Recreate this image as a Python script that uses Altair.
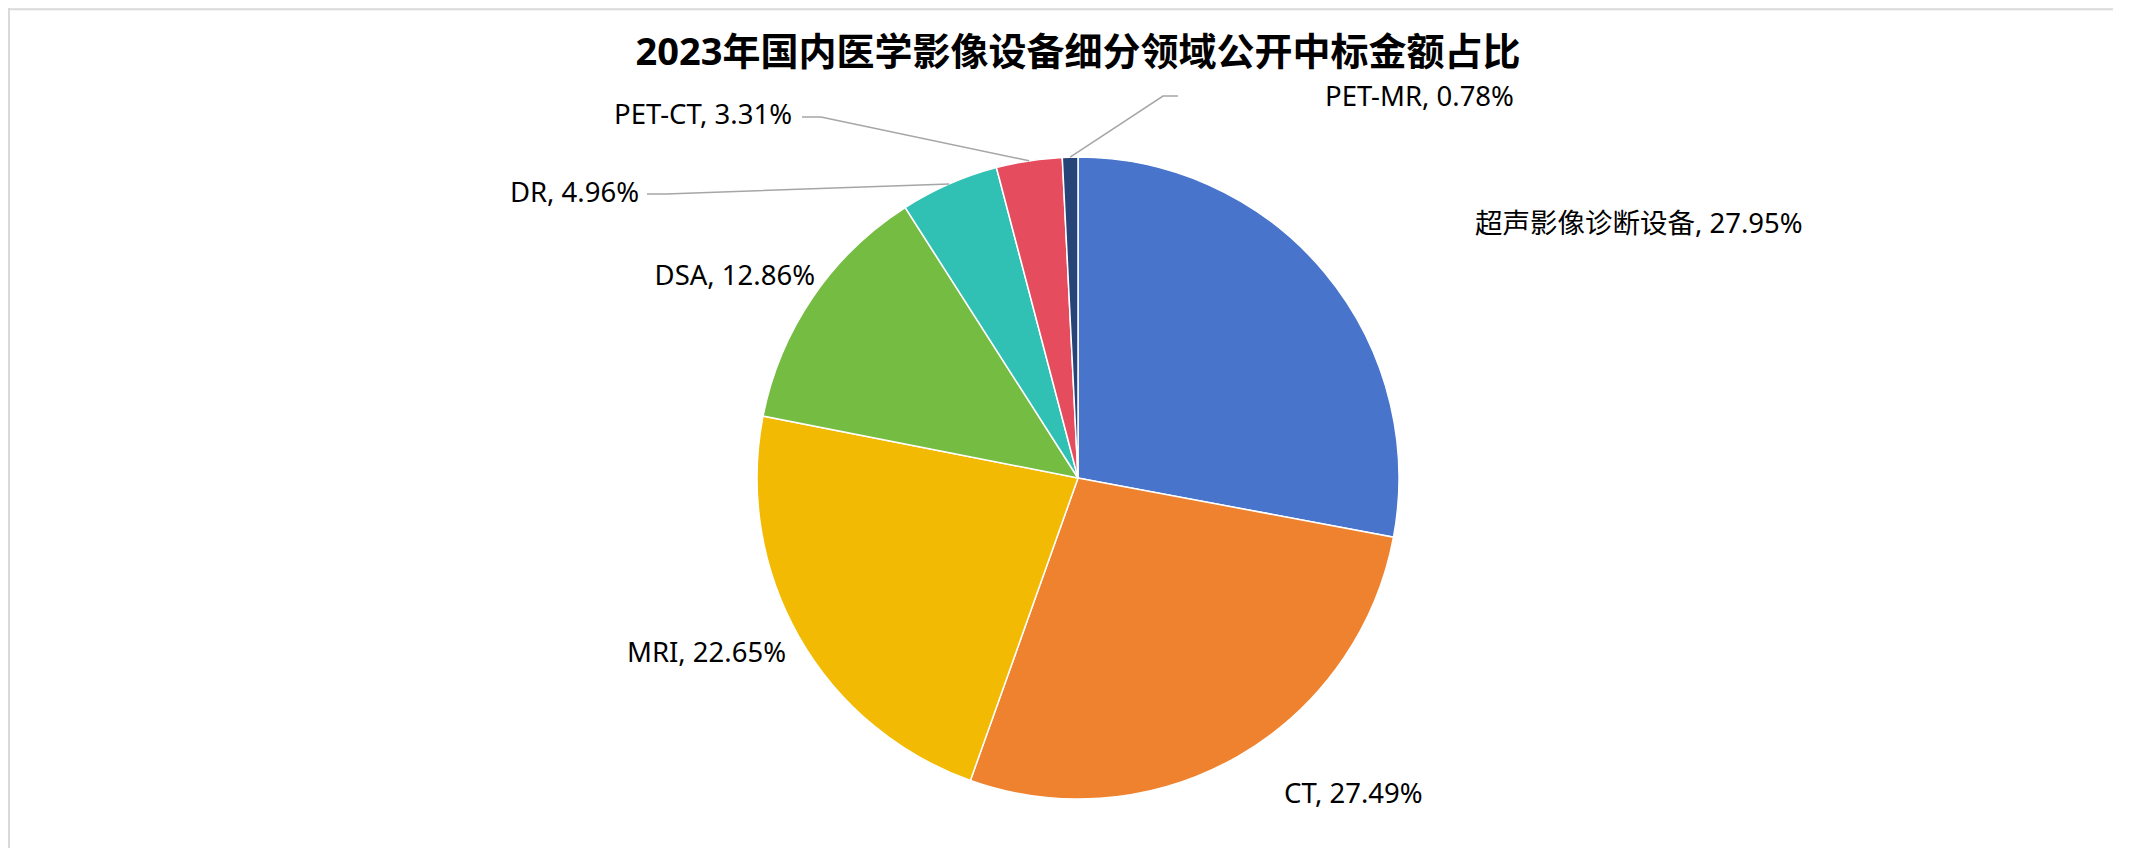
import math
import altair as alt
import pandas as pd

# ---------------- data ----------------
categories = ["超声影像诊断设备", "CT", "MRI", "DSA", "DR", "PET-CT", "PET-MR"]
shares = [27.95, 27.49, 22.65, 12.86, 4.96, 3.31, 0.78]
colors = ["#4874CB", "#EE822F", "#F2BA02", "#75BD42", "#30C0B4", "#E54C5E", "#264478"]
title_text = "2023年国内医学影像设备细分领域公开中标金额占比"

# ---------------- layout ----------------
W, H = 2105, 840
CX, CY = 1070, 470          # pie centre (chart px)
R = 321                     # pie radius
FONT = "Noto Sans, Noto Sans CJK SC, sans-serif"

# label anchor offsets relative to pie centre: (dx, dy, align)
label_layout = {
    "超声影像诊断设备": (397, -253, "left"),
    "CT": (206, 317, "left"),
    "MRI": (-292, 176, "right"),
    "DSA": (-263, -201, "right"),
    "DR": (-439, -284, "right"),
    "PET-CT": (-286, -362, "right"),
    "PET-MR": (247, -380, "left"),
}
# leader lines: two fixed points near the label (relative to centre), then pie edge
leader_layout = {
    "DR": [(-431, -284), (-412, -284)],
    "PET-CT": [(-276, -361), (-257, -361)],
    "PET-MR": [(100, -382), (85, -382)],
}

total = sum(shares)
rows, lab_rows, line_rows = [], [], []
cum = 0.0
for i, (c, s) in enumerate(zip(categories, shares)):
    mid = (cum + s / 2) / total * 2 * math.pi
    cum += s
    label = f"{c}, {s:.2f}%"
    rows.append({"category": c, "share": s, "order": i})
    dx, dy, al = label_layout[c]
    lab_rows.append({"label": label, "x": CX + dx, "y": CY + dy, "align": al})
    if c in leader_layout:
        pts = leader_layout[c]
        for k, (px, py) in enumerate(pts):
            line_rows.append({"category": c, "k": k, "x": CX + px, "y": CY + py})
        line_rows.append({"category": c, "k": len(pts),
                          "x": CX + R * math.sin(mid), "y": CY - R * math.cos(mid)})

pie_df = pd.DataFrame(rows)
lab_df = pd.DataFrame(lab_rows)
line_df = pd.DataFrame(line_rows)
dummy = pd.DataFrame({"t": [title_text]})

xs = alt.Scale(domain=[0, W], range=[0, W], nice=False, zero=False)
ys = alt.Scale(domain=[0, H], range=[0, H], nice=False, zero=False)

pie = alt.Chart(pie_df).mark_arc(outerRadius=R, stroke="white", strokeWidth=1.5).encode(
    theta=alt.Theta("share:Q", stack=True),
    color=alt.Color("category:N", scale=alt.Scale(domain=categories, range=colors), legend=None),
    order=alt.Order("order:Q"),
    x=alt.value(CX),
    y=alt.value(CY),
)

lines = alt.Chart(line_df).mark_line(color="#a6a6a6", strokeWidth=1.5).encode(
    x=alt.X("x:Q", scale=xs, axis=None),
    y=alt.Y("y:Q", scale=ys, axis=None),
    detail="category:N",
    order="k:Q",
)

def label_layer(al):
    return alt.Chart(lab_df[lab_df["align"] == al]).mark_text(
        align=al, baseline="middle", font=FONT, fontSize=27.5, color="#000000"
    ).encode(
        x=alt.X("x:Q", scale=xs, axis=None),
        y=alt.Y("y:Q", scale=ys, axis=None),
        text="label:N",
    )

title = alt.Chart(dummy).mark_text(
    align="center", baseline="middle", font=FONT, fontSize=38, fontWeight="bold", color="#000000"
).encode(x=alt.value(CX), y=alt.value(46), text="t:N")

frame_top = alt.Chart(dummy).mark_rule(color="#d9d9d9", strokeWidth=2).encode(
    x=alt.value(0), x2=alt.value(W), y=alt.value(1.3))
frame_left = alt.Chart(dummy).mark_rule(color="#d9d9d9", strokeWidth=2).encode(
    x=alt.value(1), y=alt.value(0), y2=alt.value(H))

chart = alt.layer(frame_top, frame_left, pie, lines, label_layer("left"), label_layer("right"), title).properties(
    width=W, height=H,
    autosize=alt.AutoSizeParams(type="none"),
    padding=0,
    background="white",
).configure_view(stroke=None)

chart.save("out.html", embed_options={"renderer": "svg", "actions": False})
